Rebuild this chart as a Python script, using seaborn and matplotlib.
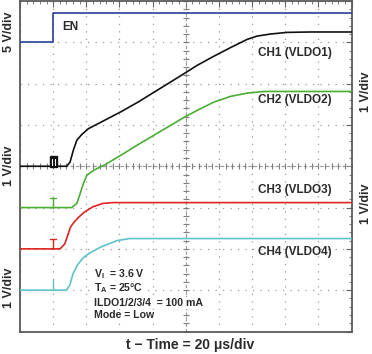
import numpy as np
import pandas as pd
import matplotlib
matplotlib.use('Agg')
import matplotlib.pyplot as plt
from matplotlib.patches import Rectangle
import seaborn as sns

# Scope settings: 20 us/div, 10 x 8 divisions, trigger at 1 div
T_MAX = 200
TRIG_T = 20

# EN (5 V/div), ground at division 7
en_t = [0, 20, 20, 200]
en_v = [0, 0, 3.6, 3.6]

# CH1 VLDO1 (1 V/div), ground at division 4
ch1_t = [0, 28.2, 30.2, 32.2, 34.3, 37.3, 41.3, 51.4, 61.4, 71.5, 81.6, 91.7,
         99.7, 106.8, 116.8, 126.9, 137.0, 143.0, 151.0, 161.1, 175.2, 200]
ch1_v = [0, 0, 0.10, 0.39, 0.63, 0.77, 0.91, 1.12, 1.33, 1.56, 1.81, 2.06,
         2.26, 2.44, 2.66, 2.87, 3.07, 3.15, 3.20, 3.24, 3.25, 3.25]

# CH2 VLDO2 (1 V/div), ground at division 3
ch2_t = [0, 31.2, 34.3, 36.3, 38.2, 40.3, 44.3, 51.4, 61.4, 71.5, 81.6, 91.7,
         99.7, 106.8, 116.8, 126.9, 137.0, 147.0, 200]
ch2_v = [0, 0, 0.10, 0.34, 0.58, 0.78, 0.90, 1.04, 1.28, 1.53, 1.77, 2.01,
         2.20, 2.35, 2.55, 2.69, 2.77, 2.81, 2.81]

# CH3 VLDO3 (1 V/div), ground at division 2
ch3_t = [0, 24.2, 27.0, 29.0, 30.5, 32.5, 35.0, 38.5, 44.0, 50.0, 56.0, 200]
ch3_v = [0, 0, 0.12, 0.35, 0.53, 0.64, 0.75, 0.88, 1.02, 1.10, 1.12, 1.12]

# CH4 VLDO4 (1 V/div), ground at division 1
ch4_t = [0, 28.0, 30.0, 32.0, 34.5, 38.0, 42.0, 49.0, 58.5, 66.0, 200]
ch4_v = [0, 0, 0.12, 0.40, 0.60, 0.78, 0.90, 1.05, 1.20, 1.25, 1.25]

channels = ['EN', 'CH1', 'CH2', 'CH3', 'CH4']
offsets = {'EN': 7, 'CH1': 4, 'CH2': 3, 'CH3': 2, 'CH4': 1}
vdiv = {'EN': 5, 'CH1': 1, 'CH2': 1, 'CH3': 1, 'CH4': 1}
colors = {'EN': '#26429a', 'CH1': '#111111', 'CH2': '#4aae34',
          'CH3': '#e02420', 'CH4': '#5cc3c8'}

raw = {'EN': (en_t, en_v), 'CH1': (ch1_t, ch1_v), 'CH2': (ch2_t, ch2_v),
       'CH3': (ch3_t, ch3_v), 'CH4': (ch4_t, ch4_v)}
frames = []
for ch in channels:
    t, v = raw[ch]
    d = pd.DataFrame({'t': t, 'v': v})
    d['div'] = d['v'] / vdiv[ch] + offsets[ch]
    d['channel'] = ch
    frames.append(d)
df = pd.concat(frames, ignore_index=True)

sns.set_style('white')
plt.rcParams['font.family'] = ['Liberation Sans', 'DejaVu Sans']
plt.rcParams['mathtext.fontset'] = 'custom'
plt.rcParams['mathtext.rm'] = 'Liberation Sans'
plt.rcParams['mathtext.bf'] = 'Liberation Sans:bold'

fig = plt.figure(figsize=(3.72, 3.54), dpi=100)
ax = fig.add_axes([20 / 372, 22.5 / 354, 331.5 / 372, 330.5 / 354])

grid_c = '#9a9a9a'
ax.set_xlim(0, T_MAX)
ax.set_ylim(0, 8)
ax.set_xticks(np.arange(0, T_MAX + 1, 20))
ax.set_yticks(np.arange(0, 9, 1))
ax.set_xticks(np.arange(0, T_MAX + 1, 4), minor=True)
ax.set_yticks(np.arange(0, 8.01, 0.2), minor=True)
ax.grid(True, which='major', color=grid_c, ls=(0, (1, 5)), lw=0.9)
ax.tick_params(which='both', direction='in', top=True, right=True,
               labelbottom=False, labelleft=False, color='#666')
ax.tick_params(which='major', length=4)
ax.tick_params(which='minor', length=2.5)
for s in ax.spines.values():
    s.set_color('#5a5a5a')
    s.set_linewidth(1.3)

# center graticule with minor ticks
ax.axhline(4, color=grid_c, ls=(0, (3, 2)), lw=0.8, zorder=1)
ax.axvline(100, color=grid_c, ls=(0, (3, 2)), lw=0.8, zorder=1)
mx = np.arange(0, T_MAX + 1, 4)
my = np.arange(0, 8.01, 0.2)
ax.plot(mx, np.full(len(mx), 4), ls='none', marker='|', ms=4, mew=0.8, color='#808080', zorder=1)
ax.plot(np.full(len(my), 100), my, ls='none', marker='_', ms=4, mew=0.8, color='#808080', zorder=1)

sns.lineplot(data=df, x='t', y='div', hue='channel', palette=colors,
             estimator=None, sort=False, lw=1.2, legend=False, ax=ax, zorder=3)

# trigger / ground markers
for ch in ['CH2', 'CH3', 'CH4']:
    b = offsets[ch]
    ax.plot([TRIG_T, TRIG_T], [b, b + 0.24], color=colors[ch], lw=1.0, zorder=3)
    if ch != 'CH4':
        ax.plot([TRIG_T - 1.7, TRIG_T + 1.7], [b + 0.24, b + 0.24], color=colors[ch], lw=1.0, zorder=3)
b = offsets['CH1']
ax.add_patch(Rectangle((TRIG_T - 2.2, b - 0.02), 4.6, 0.26, color='#111', zorder=4))
for dx in (-0.9, 0.9):
    ax.plot([TRIG_T + dx, TRIG_T + dx], [b + 0.02, b + 0.17], color='white', lw=0.8, zorder=5)

txt = dict(color='#2a2a2a', fontweight='bold')
ax.text(25.4, 7.37, 'EN', fontsize=8.5, va='center', **txt)
for ch, y, name in [('CH1', 6.75, 'VLDO1'), ('CH2', 5.61, 'VLDO2'),
                    ('CH3', 3.42, 'VLDO3'), ('CH4', 1.93, 'VLDO4')]:
    ax.text(143.8, y, f'{ch} ({name})', fontsize=8.5, va='center', **txt)

notes = [(1.40, r'V$_\mathbf{I}$  = 3.6 V'), (1.06, r'T$_\mathbf{A}$ = 25°C'),
         (0.69, 'ILDO1/2/3/4  = 100 mA'), (0.39, 'Mode = Low')]
for y, s in notes:
    ax.text(44.5, y, s, fontsize=7.6, va='center', zorder=6,
            bbox=dict(facecolor='white', edgecolor='none', pad=0.6), **txt)

ax.set_xlabel('')
ax.set_ylabel('')
bt = ax.get_yaxis_transform()
for x, y, s in [(-0.032, 7.25, '5 V/div'), (-0.032, 4.0, '1 V/div'), (-0.032, 1.05, '1 V/div'),
                (1.045, 5.8, '1 V/div'), (1.045, 3.1, '1 V/div')]:
    ax.text(x, y, s, transform=bt, rotation=90, fontsize=9, ha='center', va='center', **txt)

fig.text(190 / 372, 1 - 345 / 354, 't − Time = 20 μs/div', fontsize=10,
         ha='center', va='center', **txt)

fig.savefig('out.png', dpi=100)
